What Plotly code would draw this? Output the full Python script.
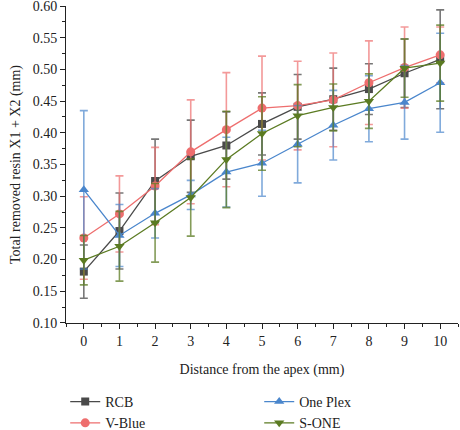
import plotly.graph_objects as go

distance = [0, 1, 2, 3, 4, 5, 6, 7, 8, 9, 10]

rcb_mean = [0.181, 0.245, 0.324, 0.363, 0.380, 0.414, 0.441, 0.453, 0.469, 0.494, 0.516]
rcb_sd = [0.042, 0.060, 0.066, 0.057, 0.053, 0.049, 0.051, 0.049, 0.040, 0.054, 0.078]

vblue_mean = [0.234, 0.272, 0.316, 0.370, 0.405, 0.439, 0.443, 0.452, 0.479, 0.503, 0.523]
vblue_sd = [0.065, 0.060, 0.061, 0.082, 0.090, 0.082, 0.070, 0.074, 0.066, 0.064, 0.044]

oneplex_mean = [0.310, 0.238, 0.273, 0.302, 0.338, 0.352, 0.382, 0.412, 0.438, 0.448, 0.479]
oneplex_sd = [0.125, 0.049, 0.039, 0.023, 0.055, 0.052, 0.061, 0.055, 0.052, 0.058, 0.078]

sone_mean = [0.199, 0.221, 0.258, 0.298, 0.358, 0.399, 0.427, 0.440, 0.450, 0.502, 0.510]
sone_sd = [0.039, 0.055, 0.062, 0.061, 0.076, 0.058, 0.049, 0.037, 0.043, 0.046, 0.060]

y_ticks = [0.10, 0.15, 0.20, 0.25, 0.30, 0.35, 0.40, 0.45, 0.50, 0.55, 0.60]
y_ticklabels = ["0.10", "0.15", "0.20", "0.25", "0.30", "0.35", "0.40", "0.45", "0.50", "0.55", "0.60"]

series = [
    ("RCB", rcb_mean, rcb_sd, "#4a4a4a", "rgba(74,74,74,0.75)", "square", 8, 1),
    ("V-Blue", vblue_mean, vblue_sd, "#ee6e6e", "rgba(238,110,110,0.7)", "circle", 9, 3),
    ("One Plex", oneplex_mean, oneplex_sd, "#4a86cc", "rgba(74,134,204,0.7)", "triangle-up", 9, 2),
    ("S-ONE", sone_mean, sone_sd, "#5b7b22", "rgba(91,123,34,0.75)", "triangle-down", 9, 4),
]

FONT = "'Liberation Serif', 'DejaVu Serif', serif"

fig = go.Figure()
for name, mean, sd, col, ecol, sym, size, rank in series:
    fig.add_trace(go.Scatter(
        x=distance, y=mean, name=name, mode="lines+markers",
        line=dict(color=col, width=1.3),
        marker=dict(symbol=sym, size=size, color=col),
        error_y=dict(type="data", array=sd, visible=True, color=ecol, thickness=1.6, width=4),
        legendrank=rank,
    ))

fig.update_layout(
    width=460, height=430,
    margin=dict(l=66, r=2, t=6, b=107, autoexpand=False),
    plot_bgcolor="white", paper_bgcolor="white",
    font=dict(family=FONT, size=14, color="#222"),
    showlegend=True,
    legend=dict(
        orientation="h", x=-0.002, xanchor="left", y=-0.366, yanchor="bottom",
        entrywidth=149, entrywidthmode="pixels",
        font=dict(family=FONT, size=14, color="#222"),
        tracegroupgap=0, itemwidth=30,
    ),
    xaxis=dict(
        range=[-0.5, 10.5], tickmode="array", tickvals=distance,
        ticks="outside", ticklen=5, tickwidth=1, tickcolor="#222",
        showline=True, linecolor="#222", linewidth=1, showgrid=False, zeroline=False,
        minor=dict(tickmode="array", tickvals=[i + 0.5 for i in range(-1, 11)], ticks="outside", ticklen=3, tickcolor="#222"),
        title=dict(text="Distance from the apex (mm)", font=dict(family=FONT, size=14), standoff=16),
        tickfont=dict(family=FONT, size=14),
    ),
    yaxis=dict(
        range=[0.0999, 0.6001], tickmode="array",
        tickvals=y_ticks, ticktext=y_ticklabels, ticklabeloverflow="allow",
        ticks="outside", ticklen=5, tickwidth=1, tickcolor="#222",
        showline=True, linecolor="#222", linewidth=1, showgrid=False, zeroline=False,
        minor=dict(tickmode="array", tickvals=[0.125 + 0.05 * i for i in range(10)], ticks="outside", ticklen=3, tickcolor="#222"),
        title=dict(text="Total removed resin X1 + X2 (mm)", font=dict(family=FONT, size=14), standoff=8),
        tickfont=dict(family=FONT, size=14),
    ),
)

fig.write_html("out.html")
